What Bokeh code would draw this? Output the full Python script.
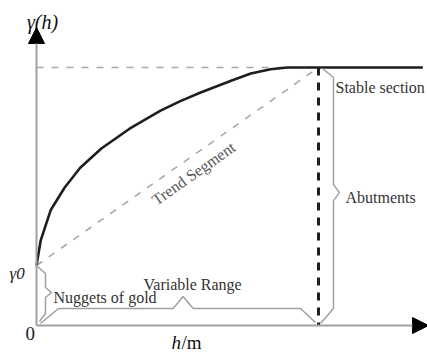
import math
from bokeh.plotting import figure
from bokeh.models import Range1d, Arrow, NormalHead
from bokeh.core.properties import value
from bokeh.embed import file_html
from bokeh.resources import INLINE

# ---- conceptual variogram values ----
NUGGET = 1.0        # gamma_0
SILL = 4.3          # plateau level
RANGE = 10.0        # variable range (h where plateau starts)
H_CURVE = [0, 0.15, 0.5, 1.0, 1.55, 2.3, 3.3, 4.4, 5.1, 5.8, 6.9, 7.6, 8.3, 8.9, 10.0, 13.7]
G_CURVE = [1.0, 1.42, 1.92, 2.30, 2.63, 2.95, 3.28, 3.58, 3.74, 3.88, 4.08, 4.20, 4.27, 4.30, 4.30, 4.30]

LABEL_Y = "γ(h)"
LABEL_G0 = "γ0"
LABEL_ORIGIN = "0"
LABEL_H = "h"
LABEL_UNIT = "/m"
LABEL_NUGGET = "Nuggets of gold"
LABEL_RANGE = "Variable Range"
LABEL_TREND = "Trend Segment"
LABEL_STABLE = "Stable section"
LABEL_ABUT = "Abutments"

# ---- layout (canvas pixels) ----
X0, Y0 = 36.0, 325.0                 # screen position of origin
PXH = (318.0 - X0) / RANGE           # pixels per unit of h
PXG = (Y0 - 265.0) / NUGGET          # pixels per unit of gamma


def sx(h):
    return X0 + h * PXH


def sy(g):
    return Y0 - g * PXG


def dh(px):
    return (px - X0) / PXH


def dg(py):
    return (Y0 - py) / PXG


W, H = 427, 354
p = figure(width=W, height=H, output_backend="svg", toolbar_location=None,
           x_axis_type=None, y_axis_type=None, min_border=0,
           x_range=Range1d(dh(0), dh(W)), y_range=Range1d(dg(H), dg(0)))
p.outline_line_color = None
p.background_fill_color = "white"
p.border_fill_color = "white"

GRAY = "#a0a0a0"
FONT = value("Liberation Serif")

# axes with arrow heads
p.add_layout(Arrow(end=NormalHead(size=16, fill_color="black", line_color="black"),
                   x_start=0, y_start=0, x_end=0, y_end=dg(27),
                   line_color=GRAY, line_width=2))
p.add_layout(Arrow(end=NormalHead(size=16, fill_color="black", line_color="black"),
                   x_start=0, y_start=0, x_end=dh(428), y_end=0,
                   line_color=GRAY, line_width=2))

# dashed guide lines
p.line([0, RANGE], [SILL, SILL], line_color="#a8a8a8", line_width=1.6, line_dash="7 8")
p.line([0, RANGE], [NUGGET, SILL], line_color="#a8a8a8", line_width=1.6, line_dash="7 8")
p.line([RANGE, RANGE], [SILL, 0], line_color="#1e1e1e", line_width=3, line_dash="8 7")

# variogram curve
p.line(H_CURVE, G_CURVE, line_color="#1e1e1e", line_width=2.6)


# braces (built in screen offsets from the data anchors)
def path(pts):
    return [dh(a) for a, b in pts], [dg(b) for a, b in pts]


xa, ytop, ybot = sx(0), sy(NUGGET), sy(0)
ny = ytop + 0.45 * (ybot - ytop)
nug = [(xa + 1, ytop + 1), (xa + 9, ytop + 8), (xa + 9, ny - 5), (xa + 15, ny),
       (xa + 9, ny + 5), (xa + 9, ybot - 12), (xa + 3, ybot - 4)]
xs, ys = path(nug)
p.line(xs, ys, line_color=GRAY, line_width=1.5)

xl, xr, yb = sx(0), sx(RANGE), sy(0)
nx = xl + 0.52 * (xr - xl)
rng = [(xl + 4, yb - 2), (xl + 22, yb - 17), (nx - 10, yb - 17), (nx, yb - 29),
       (nx + 10, yb - 17), (xr - 18, yb - 17), (xr - 3, yb - 3)]
xs, ys = path(rng)
p.line(xs, ys, line_color=GRAY, line_width=1.5)

xb, yt, yb2 = sx(RANGE), sy(SILL), sy(0)
ay = yt + 0.485 * (yb2 - yt)
abut = [(xb + 4, yt + 1), (xb + 15, yt + 10), (xb + 15, ay - 8), (xb + 21, ay),
        (xb + 15, ay + 8), (xb + 15, yb2 - 17), (xb + 2, yb2 - 2)]
xs, ys = path(abut)
p.line(xs, ys, line_color=GRAY, line_width=1.5)


# texts
def label(txt, px, py, size, style="normal", align="left", color="#333333", angle=0.0,
          baseline="alphabetic"):
    p.text(x=[dh(px)], y=[dg(py)], text=[txt], text_font=FONT, text_font_size=size,
           text_font_style=style, text_color=color, text_align=align,
           text_baseline=baseline, angle=angle, angle_units="deg")


label(LABEL_Y, sx(0) + 6, 21, "20px", style="italic", align="center", color="#111111")
label(LABEL_G0, 9, sy(NUGGET) + 8, "17px", style="italic", color="#222222")
label(LABEL_ORIGIN, sx(0) - 11, sy(0) + 8, "19px", color="#222222")
label(LABEL_H, 171, 342, "19px", style="italic", color="#111111")
label(LABEL_UNIT, 181, 342, "19px", color="#111111")
label(LABEL_NUGGET, 53, 297, "16px")
label(LABEL_RANGE, 143, 284, "16px")
label(LABEL_STABLE, sx(RANGE) + 17, sy(SILL) + 20, "16px")
label(LABEL_ABUT, sx(RANGE) + 27, ay + 5, "16px")
trend_angle = math.degrees(math.atan2(sy(NUGGET) - sy(SILL), sx(RANGE) - sx(0)))
label(LABEL_TREND, 193, 173, "16px", align="center", color="#555555",
      angle=trend_angle, baseline="middle")

open("out.html", "w").write(file_html(p, INLINE))
